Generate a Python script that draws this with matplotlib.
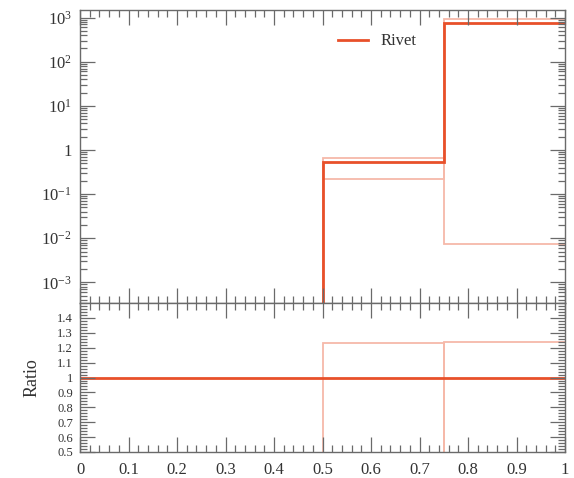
import matplotlib

matplotlib.use("Agg")

import matplotlib.pyplot as plt
import numpy as np
from matplotlib.ticker import FixedLocator, FuncFormatter, LogLocator, MultipleLocator, NullFormatter

# histogram data
edges = [0.0, 0.5, 0.75, 1.0]
rivet = [0.0, 0.54, 740.0]
band_a = [0.0, 0.67, 0.0073]
band_b = [0.0, 0.22, 915.0]

ratio_rivet = [1.0, 1.0, 1.0]
ratio_a = [0.0, 1.233, 1e-5]
ratio_b = [0.0, 0.41, 1.24]

x_ticks = [0.0, 0.1, 0.2, 0.3, 0.4, 0.5, 0.6, 0.7, 0.8, 0.9, 1.0]
x_labels = ["0", "0.1", "0.2", "0.3", "0.4", "0.5", "0.6", "0.7", "0.8", "0.9", "1"]
ratio_ticks = [0.5, 0.6, 0.7, 0.8, 0.9, 1.0, 1.1, 1.2, 1.3, 1.4]
ratio_labels = ["0.5", "0.6", "0.7", "0.8", "0.9", "1", "1.1", "1.2", "1.3", "1.4"]

plt.rcParams["font.family"] = ["Liberation Serif", "DejaVu Serif"]
plt.rcParams["mathtext.fontset"] = "custom"
plt.rcParams["mathtext.rm"] = "Liberation Serif"
plt.rcParams["mathtext.it"] = "Liberation Serif:italic"

LINE = "#e8502a"
FAINT = "#f6b9a9"
AXIS = "#6a6a6a"
TEXT = "#333333"

fig = plt.figure(figsize=(5.74, 4.78), dpi=100)
ax = fig.add_axes([0.1394, 0.366, 0.845, 0.614])
rax = fig.add_axes([0.1394, 0.0544, 0.845, 0.3116], sharex=ax)


def style_axis(a):
    for s in a.spines.values():
        s.set_color(AXIS)
        s.set_linewidth(1.0)
    a.tick_params(which="both", direction="in", top=True, right=True,
                  colors=AXIS, labelcolor=TEXT, labelsize=12, width=0.9)
    a.tick_params(which="major", length=11)
    a.tick_params(which="minor", length=5)


# main panel
ax.stairs(band_a, edges, baseline=None, color=FAINT, lw=1.3)
ax.stairs(band_b, edges, baseline=None, color=FAINT, lw=1.3)
ax.stairs(rivet, edges, baseline=None, color=LINE, lw=2.0, label="Rivet")
ax.set_yscale("log")
ax.set_ylim(3.4e-4, 1515)
ax.set_xlim(0, 1)
ax.yaxis.set_major_locator(LogLocator(base=10, numticks=20))
ax.yaxis.set_minor_locator(LogLocator(base=10, subs=np.arange(2, 10), numticks=20))
ax.yaxis.set_minor_formatter(NullFormatter())


def log_label(v, pos):
    e = int(round(np.log10(v)))
    if e == 0:
        return "1"
    return r"$10^{%d}$" % e


ax.yaxis.set_major_formatter(FuncFormatter(log_label))
style_axis(ax)
ax.tick_params(axis="x", which="both", labelbottom=False)
ax.tick_params(axis="y", which="major", pad=6)
ax.legend(loc="upper left", bbox_to_anchor=(0.5, 0.97), frameon=False,
          fontsize=12, handlelength=1.8, labelcolor=TEXT)

# ratio panel
rax.stairs(ratio_a, edges, baseline=None, color=FAINT, lw=1.3)
rax.stairs(ratio_b, edges, baseline=None, color=FAINT, lw=1.3)
rax.stairs(ratio_rivet, edges, baseline=None, color=LINE, lw=2.0)
rax.set_ylim(0.5, 1.5)
rax.set_xlim(0, 1)
rax.yaxis.set_major_locator(FixedLocator(ratio_ticks))
rax.set_yticklabels(ratio_labels)
rax.yaxis.set_minor_locator(MultipleLocator(0.02))
rax.yaxis.set_minor_formatter(NullFormatter())
rax.set_xticks(x_ticks)
rax.set_xticklabels(x_labels)
rax.xaxis.set_minor_locator(MultipleLocator(0.02))
style_axis(rax)
rax.tick_params(axis="y", which="major", labelsize=9, pad=5)
rax.tick_params(axis="x", which="major", pad=7)
rax.set_ylabel("Ratio", fontsize=13, color=TEXT, labelpad=12)

fig.savefig("out.png", dpi=100)
